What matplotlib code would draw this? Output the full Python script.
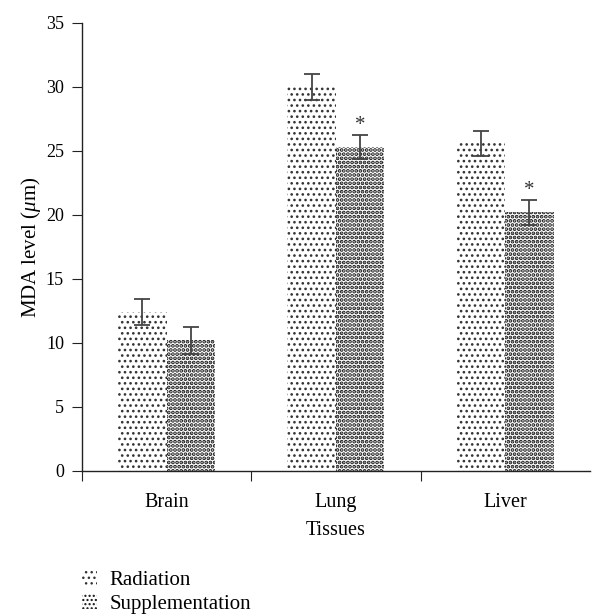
import matplotlib
matplotlib.use("Agg")
import matplotlib.pyplot as plt
import numpy as np
from matplotlib.patches import Patch

plt.rcParams['font.family'] = ['Liberation Serif', 'DejaVu Serif']
plt.rcParams['mathtext.fontset'] = 'custom'
plt.rcParams['mathtext.rm'] = 'Liberation Serif'
plt.rcParams['mathtext.it'] = 'Liberation Serif:italic'

categories = ["Brain", "Lung", "Liver"]
radiation = [12.4, 30.0, 25.6]
radiation_err = [1.0, 1.0, 1.0]
supplementation = [10.2, 25.3, 20.2]
supplementation_err = [1.05, 0.95, 1.0]
significant = [False, True, True]
yticks = [0, 5, 10, 15, 20, 25, 30, 35]

fig = plt.figure(figsize=(5.96, 6.16), dpi=100)
ax = fig.add_axes([0.1376, 0.2354, 0.852, 0.7273])

x = np.arange(len(categories))
w = 0.287
ecol = '#444444'
LW1, LW2 = 1.1, 1.9
with plt.rc_context({'hatch.linewidth': LW1}):
    b1 = ax.bar(x - w/2, radiation, w, color='white', edgecolor='#333333', hatch='...', linewidth=0)
    h1 = Patch(facecolor='white', edgecolor='#333333', hatch='...', linewidth=0, label='Radiation')
with plt.rc_context({'hatch.linewidth': LW2}):
    b2 = ax.bar(x + w/2, supplementation, w, color='white', edgecolor='#111111', hatch='....', linewidth=0)
    h2 = Patch(facecolor='white', edgecolor='#111111', hatch='....', linewidth=0, label='Supplementation')
for p in list(b1.patches) + [h1]:
    if hasattr(p, 'set_hatch_linewidth'):
        p.set_hatch_linewidth(LW1)
for p in list(b2.patches) + [h2]:
    if hasattr(p, 'set_hatch_linewidth'):
        p.set_hatch_linewidth(LW2)

ax.errorbar(x - w/2, radiation, yerr=radiation_err, fmt='none', ecolor=ecol, elinewidth=1.3, capsize=6, capthick=1.3)
ax.errorbar(x + w/2, supplementation, yerr=supplementation_err, fmt='none', ecolor=ecol, elinewidth=1.3, capsize=6, capthick=1.3)
for xi, v, e, s in zip(x, supplementation, supplementation_err, significant):
    if s:
        ax.text(xi + w/2, v + e + 0.0, '*', ha='center', va='bottom', fontsize=15, color='#333333')

ax.set_xlim(-0.5, 2.5)
ax.set_ylim(0, 35)
ax.set_yticks(yticks)
ax.set_xticks([-0.5, 0.5, 1.5])
ax.set_xticklabels([])
ax.set_xticks(x, minor=True)
ax.set_xticklabels(categories, minor=True)
ax.tick_params(axis='x', which='minor', length=0, pad=16, labelsize=14.5)
ax.tick_params(axis='x', which='major', length=7, direction='out', color='#222222')
ax.tick_params(axis='y', length=7, direction='out', labelsize=13, color='#222222', pad=6)
for s in ['top', 'right']:
    ax.spines[s].set_visible(False)
for s in ['left', 'bottom']:
    ax.spines[s].set_color('#222222')
    ax.spines[s].set_linewidth(1.0)
ax.set_xlabel('Tissues', fontsize=14.5, labelpad=6.5)
ax.set_ylabel(r'MDA level ($\mu$m)', fontsize=15, labelpad=2)

fig.legend(handles=[h1, h2], loc='upper left', bbox_to_anchor=(0.124, 0.088), frameon=False,
           fontsize=15, handlelength=0.7, handleheight=0.7, handletextpad=0.62, labelspacing=0.22,
           borderaxespad=0)

fig.savefig('out.png', dpi=100)
